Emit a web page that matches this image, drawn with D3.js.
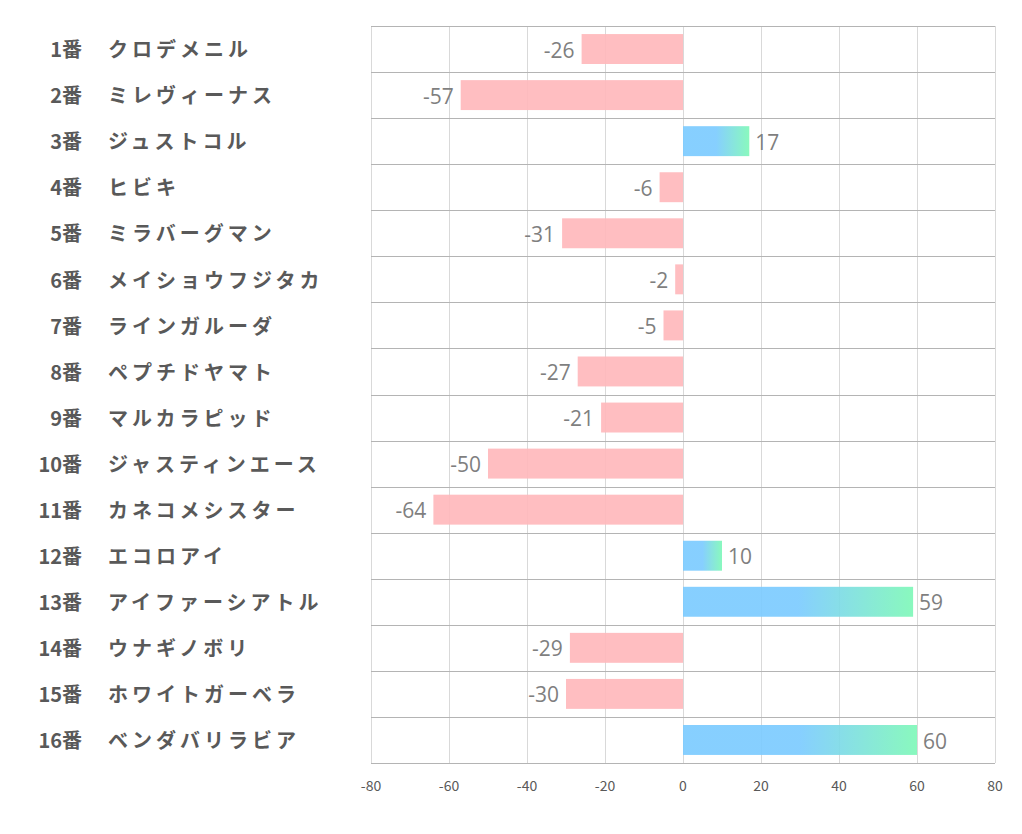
<!DOCTYPE html>
<html><head><meta charset="utf-8">
<script src="https://cdn.jsdelivr.net/npm/d3@7"></script>
<style>body{margin:0;background:#fff;}</style>
</head><body>
<svg id="c" width="1022" height="834"></svg>
<script>
const numbers = ["1番","2番","3番","4番","5番","6番","7番","8番","9番","10番","11番","12番","13番","14番","15番","16番"];
const names = ["クロデメニル","ミレヴィーナス","ジュストコル","ヒビキ","ミラバーグマン","メイショウフジタカ","ラインガルーダ","ペプチドヤマト","マルカラピッド","ジャスティンエース","カネコメシスター","エコロアイ","アイファーシアトル","ウナギノボリ","ホワイトガーベラ","ベンダバリラビア"];
const values = [-26,-57,17,-6,-31,-2,-5,-27,-21,-50,-64,10,59,-29,-30,60];
const ticks = [-80,-60,-40,-20,0,20,40,60,80];

const svg = d3.select("#c");
const L=371,R=995,T=26,B=763;
const x = d3.scaleLinear().domain([-80,80]).range([L,R]);
const y = d3.scaleBand().domain(numbers).range([T,B]).paddingInner(0.35).paddingOuter(0.175);
const step = (B-T)/numbers.length;
const font = "'Noto Sans CJK JP','Noto Sans',sans-serif";
const numFont = "'Open Sans','Noto Sans',sans-serif";

const defs = svg.append("defs");
const g = defs.append("linearGradient").attr("id","pos").attr("x1","0").attr("x2","1").attr("y1","0").attr("y2","0");
g.append("stop").attr("offset","0").attr("stop-color","#7ccbff");
g.append("stop").attr("offset","0.5").attr("stop-color","#7ccbff");
g.append("stop").attr("offset","1").attr("stop-color","#7ff8b8");

// vertical grid
svg.append("g").selectAll("line").data(ticks).join("line")
  .attr("x1",d=>x(d)+0.5).attr("x2",d=>x(d)+0.5).attr("y1",T).attr("y2",B)
  .attr("stroke","#d9d9d9").attr("stroke-width",1);
// horizontal separators
svg.append("g").selectAll("line").data(d3.range(numbers.length+1)).join("line")
  .attr("x1",L).attr("x2",R).attr("y1",i=>Math.round(T+i*step)+0.5).attr("y2",i=>Math.round(T+i*step)+0.5)
  .attr("stroke","#b4b4b4").attr("stroke-width",1);

// bars
svg.append("g").selectAll("rect").data(values).join("rect")
  .attr("x",(d)=>x(Math.min(0,d))).attr("width",d=>Math.abs(x(d)-x(0)))
  .attr("y",(d,i)=>y(numbers[i])).attr("height",y.bandwidth())
  .attr("fill",d=>d<0?"#ffb8bc":"url(#pos)").attr("opacity",0.92);

// value labels
svg.append("g").selectAll("text").data(values).join("text")
  .attr("x",d=>d<0?x(d)-7:x(d)+6)
  .attr("y",(d,i)=>y(numbers[i])+y.bandwidth()/2+1)
  .attr("dy","0.36em")
  .attr("text-anchor",d=>d<0?"end":"start")
  .attr("font-family",numFont).attr("font-size",21).attr("fill","#7f7f7f")
  .text(d=>d);

// category labels
svg.append("g").selectAll("text").data(numbers).join("text")
  .attr("x",82).attr("y",d=>y(d)+y.bandwidth()/2+1).attr("dy","0.36em")
  .attr("text-anchor","end").attr("font-family",font).attr("font-weight","bold")
  .attr("font-size",20).attr("fill","#595959").text(d=>d);
svg.append("g").selectAll("text").data(names).join("text")
  .attr("x",108).attr("y",(d,i)=>y(numbers[i])+y.bandwidth()/2+1).attr("dy","0.36em")
  .attr("text-anchor","start").attr("font-family",font).attr("font-weight","bold")
  .attr("font-size",20).attr("fill","#595959").attr("letter-spacing","4").text(d=>d);

// x axis labels
svg.append("g").selectAll("text").data(ticks).join("text")
  .attr("x",d=>x(d)).attr("y",791).attr("text-anchor","middle")
  .attr("font-family",font).attr("font-size",14).attr("fill","#595959").text(d=>d);
</script>
</body></html>
